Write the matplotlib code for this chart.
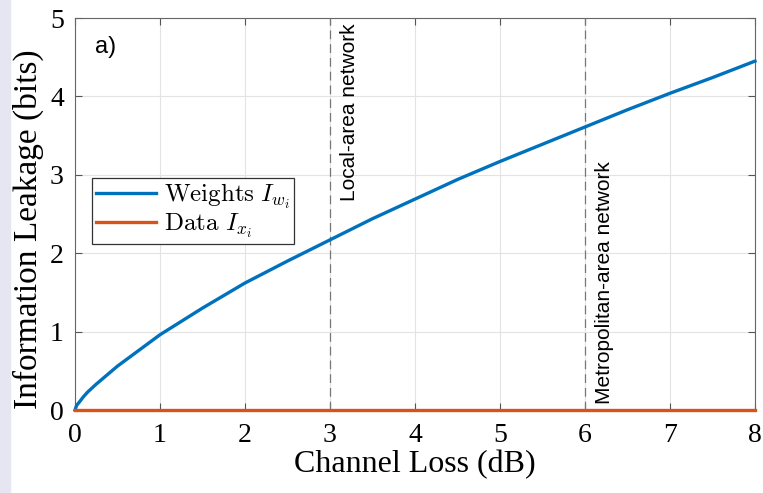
import numpy as np
import matplotlib.pyplot as plt
from matplotlib.patches import Rectangle

plt.rcParams['mathtext.fontset'] = 'cm'

# values
loss_db = [0, 0.02, 0.05, 0.1, 0.15, 0.25, 0.5, 0.75, 1, 1.5, 2, 2.5, 3, 3.5, 4,
           4.5, 5, 5.5, 6, 6.5, 7, 7.5, 8]
leak_weights = [0, 0.06, 0.10, 0.17, 0.23, 0.33, 0.56, 0.76, 0.96, 1.30, 1.62, 1.90,
                2.17, 2.44, 2.69, 2.94, 3.17, 3.39, 3.61, 3.83, 4.04, 4.24, 4.45]
leak_data = [0] * len(loss_db)
network_x = [3, 6]
network_names = ['Local-area network', 'Metropolitan-area network']

blue = '#0072BD'
orange = '#D95319'

fig = plt.figure(figsize=(7.63, 4.93), dpi=100)
fig.patches.append(Rectangle((0, 0), 10 / 763, 1, transform=fig.transFigure,
                             color='#e6e6f3', zorder=-1))
ax = fig.add_axes([75 / 763, 83 / 493, 680 / 763, 392 / 493])

ax.plot(loss_db, leak_weights, color=blue, lw=2.4, label=r'$\mathrm{Weights}\ I_{w_i}$',
        clip_on=False, zorder=4)
ax.plot(loss_db, leak_data, color=orange, lw=2.4, label=r'$\mathrm{Data}\ I_{x_i}$',
        clip_on=False, zorder=5)

for xv in network_x:
    ax.axvline(xv, color='#777777', lw=0.9, ls=(0, (7, 4)), zorder=3)
ax.text(3.23, 4.93, network_names[0], rotation=90, ha='center', va='top',
        family='Liberation Sans', fontsize=15)
ax.text(6.235, 0.08, network_names[1], rotation=90, ha='center', va='bottom',
        family='Liberation Sans', fontsize=15)
ax.text(0.03, 0.925, 'a)', transform=ax.transAxes, ha='left', va='center',
        family='Liberation Sans', fontsize=17)

ax.set_xlim(0, 8)
ax.set_ylim(0, 5)
ax.set_xticks(range(0, 9))
ax.set_yticks(range(0, 6))
ax.grid(True, color='#e3e3e3', lw=0.8)
ax.set_axisbelow(True)
ax.tick_params(direction='in', top=True, right=True, length=5, width=0.8,
               color='#555555', labelsize=20)
ax.tick_params(axis='x', pad=9)
ax.tick_params(axis='y', pad=8)
for lab in ax.get_xticklabels() + ax.get_yticklabels():
    lab.set_family('Liberation Serif')
for sp in ax.spines.values():
    sp.set_color('#666666')
    sp.set_linewidth(0.8)

ax.set_xlabel('Channel Loss (dB)', family='Liberation Serif', fontsize=23, labelpad=2)
ax.set_ylabel('Information Leakage (bits)', family='Liberation Serif', fontsize=24)
ax.yaxis.set_label_coords(-0.045, 0.46)

leg = ax.legend(loc='upper left', bbox_to_anchor=(0.025, 0.592), fontsize=18,
                handlelength=2.4, fancybox=False, framealpha=1,
                borderpad=0.15, labelspacing=0.05, handletextpad=0.35, borderaxespad=0)
leg.get_frame().set_edgecolor('#333333')
leg.get_frame().set_linewidth(0.9)

fig.savefig('out.png', dpi=100)
